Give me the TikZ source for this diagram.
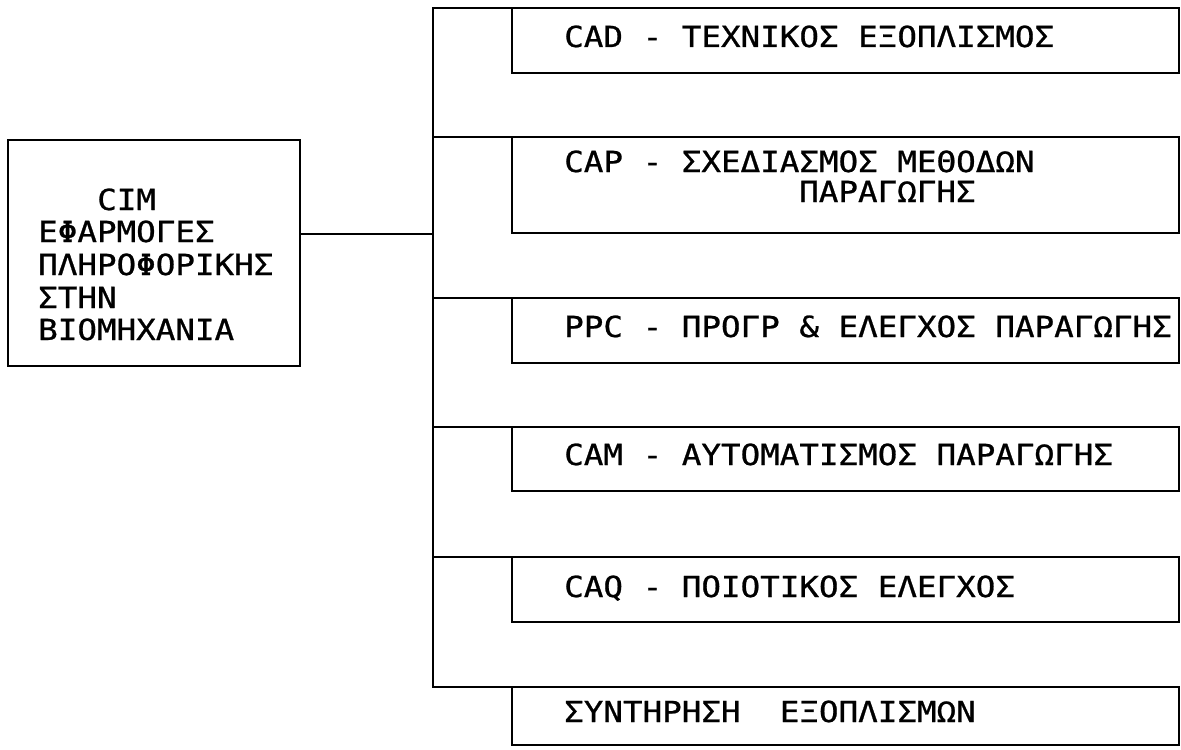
\documentclass[tikz,border=0pt]{standalone}
\usepackage{fontspec}
\newfontfamily\plotfont[FakeBold=0.8]{DejaVu Sans Mono}
% widen the monospaced glyphs a little, like a pen-plotter lettering
\newcommand\plotline[1]{\scalebox{1.1226}[1]{#1}}
\begin{document}
\begin{tikzpicture}[
  x=0.5pt, y=-0.5pt,
  line width=1.2pt,
  box/.style={draw, rectangle, inner sep=0pt, outer sep=0pt,
    minimum width=333.5pt, minimum height=#1},
  txt/.style={anchor=base west, inner sep=0pt,
    font=\plotfont\fontsize{14.5}{16}\selectfont},
  wire/.style={draw, line cap=rect}
]
\useasboundingbox (0,0) rectangle (1181,749);

% main block on the left
\node[draw, rectangle, inner sep=0pt, outer sep=0pt,
  minimum width=146pt, minimum height=113pt] (cim) at (154,253) {};
\node[txt] (cim1) at (96,210)  {\plotline{CIM}};
\node[txt] (cim2) at (37,242)  {\plotline{ΕΦΑΡΜΟΓΕΣ}};
\node[txt] (cim3) at (37,275)  {\plotline{ΠΛΗΡΟΦΟΡΙΚΗΣ}};
\node[txt] (cim4) at (37,308)  {\plotline{ΣΤΗΝ}};
\node[txt] (cim5) at (37,340)  {\plotline{ΒΙΟΜΗΧΑΝΙΑ}};

% application blocks on the right (x from 512 to 1179)
\node[box=32.5pt] (cad) at (845.5,40.5) {};
\node[box=48pt]   (cap) at (845.5,185) {};
\node[box=32.5pt] (ppc) at (845.5,330.5) {};
\node[box=32pt]   (cam) at (845.5,459) {};
\node[box=32.5pt] (caq) at (845.5,589.5) {};
\node[box=29pt]   (syn) at (845.5,716) {};

\node[txt] (cadt)  at (563,47)  {\plotline{CAD - ΤΕΧΝΙΚΟΣ ΕΞΟΠΛΙΣΜΟΣ}};
\node[txt] (capt)  at (563,172) {\plotline{CAP - ΣΧΕΔΙΑΣΜΟΣ ΜΕΘΟΔΩΝ}};
\node[txt] (capt2) at (798,202) {\plotline{ΠΑΡΑΓΩΓΗΣ}};
\node[txt] (ppct)  at (563,337) {\plotline{PPC - ΠΡΟΓΡ \& ΕΛΕΓΧΟΣ ΠΑΡΑΓΩΓΗΣ}};
\node[txt] (camt)  at (563,465) {\plotline{CAM - ΑΥΤΟΜΑΤΙΣΜΟΣ ΠΑΡΑΓΩΓΗΣ}};
\node[txt] (caqt)  at (563,597) {\plotline{CAQ - ΠΟΙΟΤΙΚΟΣ ΕΛΕΓΧΟΣ}};
\node[txt] (synt)  at (563,722) {\plotline{ΣΥΝΤΗΡΗΣΗ~~ΕΞΟΠΛΙΣΜΩΝ}};

% bus line joining all blocks
\coordinate (bt) at (433,8);
\coordinate (bb) at (433,687);
\coordinate (jn) at (433,234);
\draw[wire] (cad.north west) -- (bt) -- (bb) -- (syn.north west);
\foreach \b in {cap,ppc,cam,caq}
  \draw[wire] (\b.north west) -- (\b.north west -| bt);
\draw[wire] (cim.east |- jn) -- (jn);
\end{tikzpicture}
\end{document}
